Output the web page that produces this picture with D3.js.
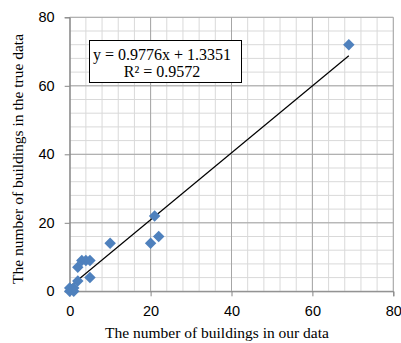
<!DOCTYPE html>
<html>
<head>
<meta charset="utf-8">
<script src="https://cdn.jsdelivr.net/npm/d3@7"></script>
<style>
  html, body { margin: 0; padding: 0; background: #fff; }
  svg { display: block; }
</style>
</head>
<body>
<svg id="chart" width="401" height="343"></svg>
<script>
// Building counts: our data (x) against the true data (y)
const ourCounts  = [0, 1, 0, 1, 2, 2, 3, 4, 5, 5, 10, 20, 21, 22, 69];
const trueCounts = [0, 0, 1, 1, 3, 7, 9, 9, 9, 4, 14, 14, 22, 16, 72];
const axisTicks = [0, 20, 40, 60, 80];
const minorTicks = [0, 4, 8, 12, 16, 20, 24, 28, 32, 36, 40, 44, 48, 52, 56, 60, 64, 68, 72, 76, 80];
const fitSlope = 0.9776;
const fitIntercept = 1.3351;
const fitR2 = 0.9572;
const xTitle = "The number of buildings in our data";
const yTitle = "The number of buildings in the true data";

const svg = d3.select("#chart");
const plotL = 69.7, plotR = 393.3, plotT = 17.3, plotB = 291.3;
const serif = "'Liberation Serif', 'Times New Roman', serif";

const x = d3.scaleLinear().domain([0, 80]).range([plotL, plotR]);
const y = d3.scaleLinear().domain([0, 80]).range([plotB, plotT]);

const grid = svg.append("g");
// minor gridlines
grid.selectAll("line.vminor").data(minorTicks).join("line")
  .attr("x1", d => x(d)).attr("x2", d => x(d))
  .attr("y1", plotT).attr("y2", plotB)
  .attr("stroke", "#d9d9d9").attr("stroke-width", 1);
grid.selectAll("line.hminor").data(minorTicks).join("line")
  .attr("y1", d => y(d)).attr("y2", d => y(d))
  .attr("x1", plotL).attr("x2", plotR)
  .attr("stroke", "#d9d9d9").attr("stroke-width", 1);
// major gridlines
grid.selectAll("line.vmajor").data(axisTicks).join("line")
  .attr("x1", d => x(d)).attr("x2", d => x(d))
  .attr("y1", plotT).attr("y2", plotB)
  .attr("stroke", "#a6a6a6").attr("stroke-width", 1);
grid.selectAll("line.hmajor").data(axisTicks).join("line")
  .attr("y1", d => y(d)).attr("y2", d => y(d))
  .attr("x1", plotL).attr("x2", plotR)
  .attr("stroke", "#a6a6a6").attr("stroke-width", 1);

// axes
const xAxis = svg.append("g")
  .attr("transform", `translate(0,${plotB})`)
  .call(d3.axisBottom(x).tickValues(axisTicks).tickSize(5).tickPadding(9));
const yAxis = svg.append("g")
  .attr("transform", `translate(${plotL},0)`)
  .call(d3.axisLeft(y).tickValues(axisTicks).tickSize(5).tickPadding(10));
[xAxis, yAxis].forEach(a => {
  a.select(".domain").attr("stroke", "#868686");
  a.selectAll(".tick line").attr("stroke", "#868686");
  a.selectAll(".tick text")
    .attr("fill", "#000")
    .style("font-family", "'Liberation Sans', Arial, sans-serif")
    .style("font-size", "14.5px");
});

// linear trendline over the x range of the data
const [xmin, xmax] = d3.extent(ourCounts);
svg.append("line")
  .attr("x1", x(xmin)).attr("y1", y(fitSlope * xmin + fitIntercept))
  .attr("x2", x(xmax)).attr("y2", y(fitSlope * xmax + fitIntercept))
  .attr("stroke", "#000").attr("stroke-width", 1.2);

// diamond markers
const diamond = d3.symbol().type(d3.symbolDiamond2).size(84);
svg.append("g").selectAll("path").data(ourCounts).join("path")
  .attr("d", diamond)
  .attr("transform", (d, i) => `translate(${x(d)},${y(trueCounts[i])})`)
  .attr("fill", "#4f81bd");

// equation box
const box = svg.append("g");
box.append("rect")
  .attr("x", 89.5).attr("y", 40.5).attr("width", 152).attr("height", 42)
  .attr("fill", "#fff").attr("stroke", "#000").attr("stroke-width", 1);
box.append("text")
  .attr("x", 162).attr("y", 60).attr("text-anchor", "middle")
  .style("font-family", serif)
  .style("font-size", "16px")
  .text(`y = ${fitSlope}x + ${fitIntercept}`);
box.append("text")
  .attr("x", 162).attr("y", 76.5).attr("text-anchor", "middle")
  .style("font-family", serif)
  .style("font-size", "16px")
  .text(`R² = ${fitR2}`);

// axis titles
svg.append("text")
  .attr("x", 217).attr("y", 338)
  .attr("text-anchor", "middle")
  .style("font-family", serif)
  .style("font-size", "15.5px")
  .text(xTitle);
svg.append("text")
  .attr("transform", `translate(23,159) rotate(-90)`)
  .attr("text-anchor", "middle")
  .style("font-family", serif)
  .style("font-size", "15.5px")
  .text(yTitle);
</script>
</body>
</html>
